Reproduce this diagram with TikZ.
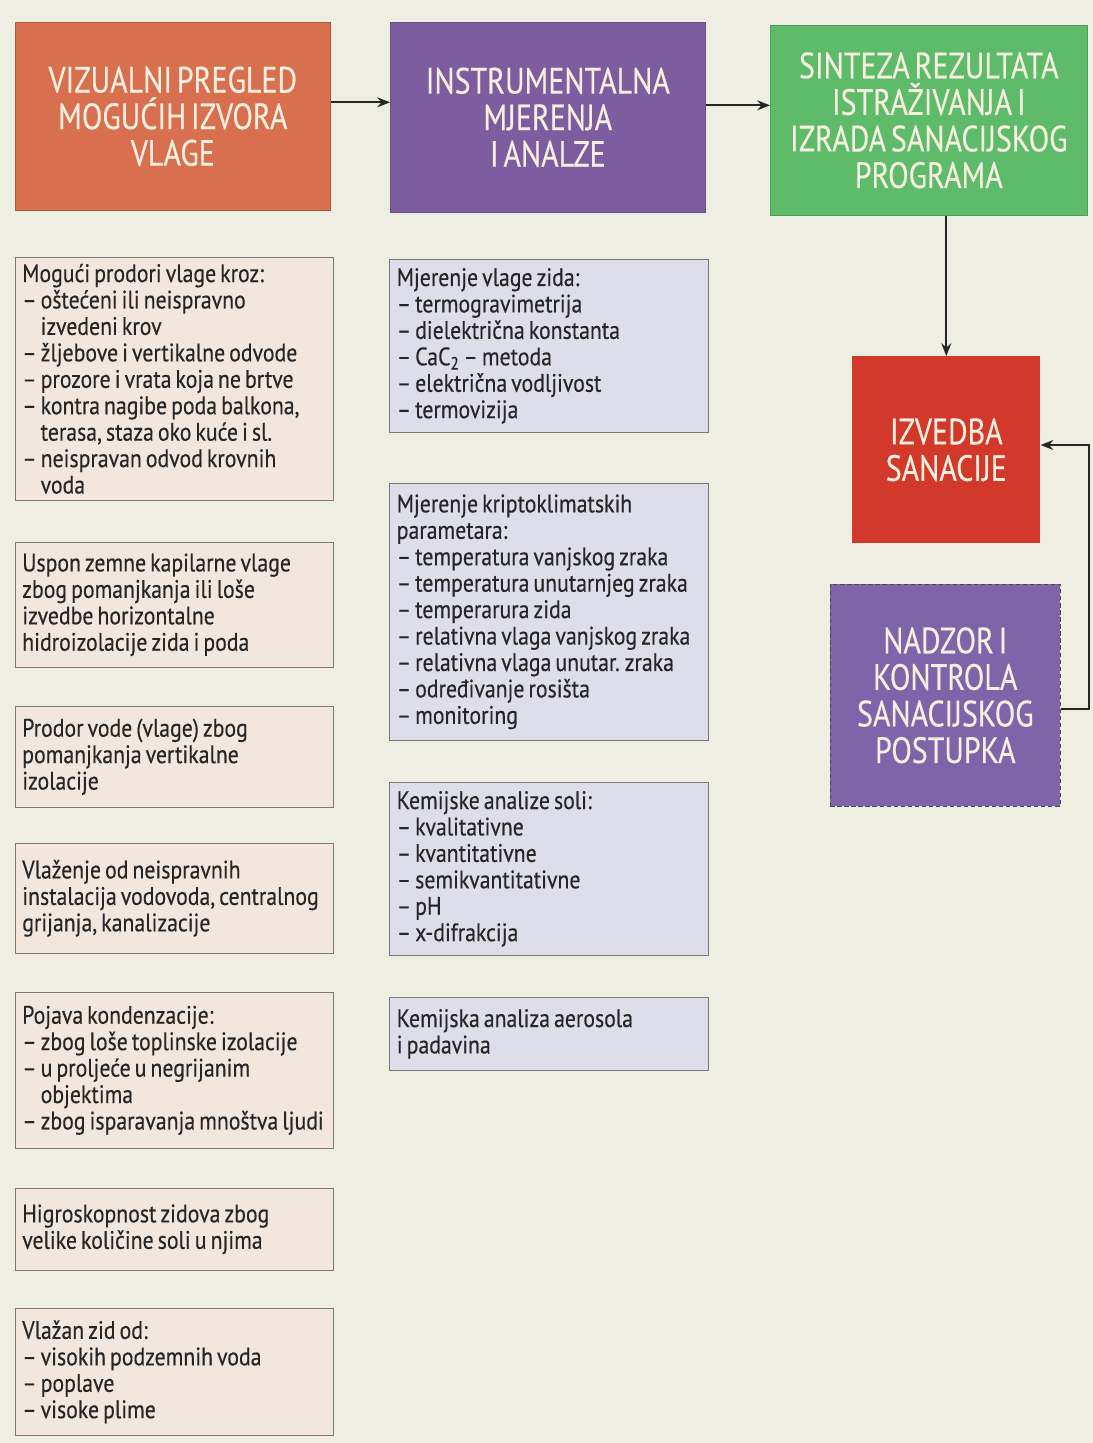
\documentclass[tikz,border=0pt]{standalone}
\usepackage{fontspec}
\setmainfont{PT Sans}[FakeStretch=0.86, FakeBold=0.35]
\newfontfamily\headfont{PT Sans}[FakeStretch=0.82, FakeBold=0.35, WordSpace=0.6]
\usetikzlibrary{positioning,arrows.meta}

\definecolor{paper}{HTML}{EEEEE3}
\definecolor{orangebox}{HTML}{D8704F}
\definecolor{purplebox}{HTML}{7D5C9F}
\definecolor{greenbox}{HTML}{5DBB69}
\definecolor{redbox}{HTML}{D2392A}
\definecolor{nadzorbox}{HTML}{8064AA}
\definecolor{causefill}{HTML}{F3E7DD}
\definecolor{measfill}{HTML}{DEDEEA}
\definecolor{edge}{HTML}{7A7A72}
\definecolor{headtext}{HTML}{F6EFE0}

\begin{document}
\begin{tikzpicture}[x=0.025cm, y=-0.025cm, >={Stealth[length=9pt,width=7pt]},
    head/.style={ anchor=north west, align=center, text=headtext,
      font=\headfont\fontsize{26}{26}\selectfont, inner sep=0pt },
    cause/.style={ anchor=north west, draw=edge, fill=causefill,
      text width=7.6cm, inner xsep=0.175cm, align=left,
      font=\fontsize{18}{18.8}\selectfont,
      execute at begin node={\spaceskip=0.16em plus 0.05em\relax
        \xspaceskip=0.2em\relax \hyphenpenalty=10000\relax},
      text=black!85, minimum width=7.95cm },
    meas/.style={ cause, fill=measfill, inner xsep=0.1875cm,
      minimum width=7.975cm },
    flow/.style={ ->, line width=1.5pt, black!85 } ]
  \fill[paper] (0,0) rectangle (1093,1443);

  % top row
  \node[head, fill=orangebox, draw=orangebox!80!black,
    minimum width=7.875cm, minimum height=4.7cm] (vizualni) at (15,22)
    {VIZUALNI PREGLED\\MOGUĆIH IZVORA\\VLAGE};
  \node[head, fill=purplebox, draw=purplebox!85!black,
    minimum width=7.875cm, minimum height=4.75cm] (instr) at (390,22)
    {INSTRUMENTALNA\\MJERENJA\\I ANALZE};
  \node[head, fill=greenbox, draw=greenbox!85!black,
    minimum width=7.925cm, minimum height=4.75cm] (sinteza) at (770,25)
    {SINTEZA REZULTATA\\ISTRAŽIVANJA I\\IZRADA SANACIJSKOG\\PROGRAMA};

  % right column
  \node[head, fill=redbox, minimum width=4.7cm, minimum height=4.675cm]
    (izvedba) at (852,356) {IZVEDBA\\SANACIJE};
  \node[head, fill=nadzorbox, draw=black!70, densely dashed,
    minimum width=5.75cm, minimum height=5.55cm] (nadzor) at (830,584)
    {NADZOR I\\KONTROLA\\SANACIJSKOG\\POSTUPKA};

  % izvori vlage
  \node[cause, minimum height=6.075cm] (c1) at (15,257)
    {Mogući prodori vlage kroz:\\
     – oštećeni ili neispravno\\
     \phantom{– }izvedeni krov\\
     – žljebove i vertikalne odvode\\
     – prozore i vrata koja ne brtve\\
     – kontra nagibe poda balkona,\\
     \phantom{– }terasa, staza oko kuće i sl.\\
     – neispravan odvod krovnih\\
     \phantom{– }voda};
  \node[cause, minimum height=3.125cm] (c2) at (15,542)
    {Uspon zemne kapilarne vlage\\zbog pomanjkanja ili loše\\
     izvedbe horizontalne\\hidroizolacije zida i poda};
  \node[cause, minimum height=2.525cm] (c3) at (15,706)
    {Prodor vode (vlage) zbog\\pomanjkanja vertikalne\\izolacije};
  \node[cause, minimum height=2.75cm] (c4) at (15,843)
    {Vlaženje od neispravnih\\instalacija vodovoda, centralnog\\
     grijanja, kanalizacije};
  \node[cause, minimum height=3.9cm] (c5) at (15,992)
    {Pojava kondenzacije:\\
     – zbog loše toplinske izolacije\\
     – u proljeće u negrijanim\\
     \phantom{– }objektima\\
     – zbog isparavanja mnoštva ljudi};
  \node[cause, minimum height=2.05cm] (c6) at (15,1188)
    {Higroskopnost zidova zbog\\velike količine soli u njima};
  \node[cause, minimum height=3.175cm] (c7) at (15,1308)
    {Vlažan zid od:\\
     – visokih podzemnih voda\\
     – poplave\\
     – visoke plime};

  % mjerenja i analize
  \node[meas, minimum height=4.325cm] (m1) at (389,259)
    {Mjerenje vlage zida:\\
     – termogravimetrija\\
     – dielektrična konstanta\\
     – CaC\textsubscript{2} – metoda\\
     – električna vodljivost\\
     – termovizija};
  \node[meas, minimum height=6.425cm] (m2) at (389,483)
    {Mjerenje kriptoklimatskih\\parametara:\\
     – temperatura vanjskog zraka\\
     – temperatura unutarnjeg zraka\\
     – temperarura zida\\
     – relativna vlaga vanjskog zraka\\
     – relativna vlaga unutar. zraka\\
     – određivanje rosišta\\
     – monitoring};
  \node[meas, minimum height=4.325cm] (m3) at (389,782)
    {Kemijske analize soli:\\
     – kvalitativne\\
     – kvantitativne\\
     – semikvantitativne\\
     – pH\\
     – x-difrakcija};
  \node[meas, minimum height=1.825cm] (m4) at (389,997)
    {Kemijska analiza aerosola\\i padavina};

  % connectors
  \draw[flow] ([yshift=0.35cm]vizualni.east) -- ([yshift=0.35cm]vizualni.east -| instr.west);
  \draw[flow] ([yshift=0.3cm]instr.east) -- ([yshift=0.3cm]instr.east -| sinteza.west);
  \draw[flow] (izvedba.north |- sinteza.south) -- (izvedba.north);
  \draw[flow] ([yshift=-0.35cm]nadzor.east) -- ++(28,0) |- ([yshift=0.12cm]izvedba.east);
\end{tikzpicture}
\end{document}
